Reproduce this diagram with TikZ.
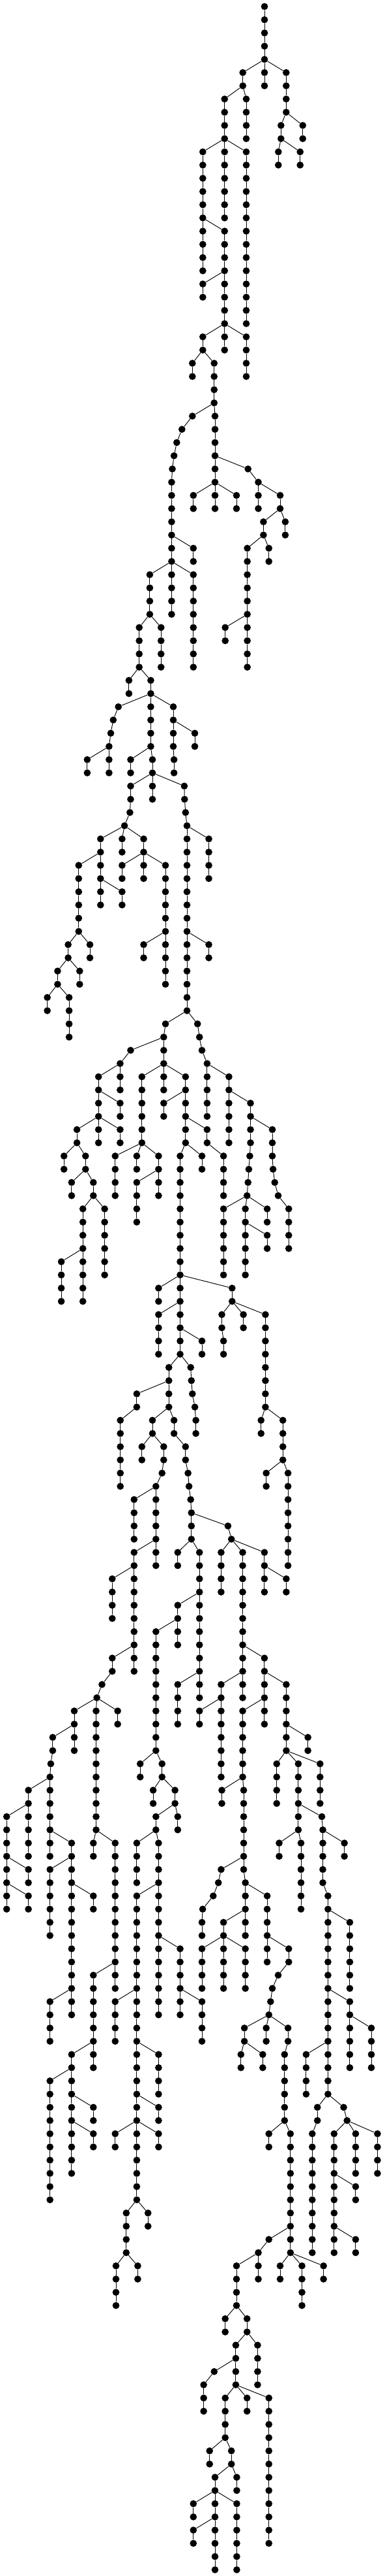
\documentclass[tikz,border=0pt]{standalone}
\tikzset{
  dot/.style={circle,fill=black,draw=none,inner sep=0pt,minimum size=10.7pt},
  edge/.style={draw=black,line width=0.95pt}
}
% A node is named n<level>x<x in tenths of a pixel>.
\newcommand\stp[1]{%
  \pgfmathtruncatemacro\nlv{\plv+1}%
  \node[dot] (n\nlv x#1) at (#1,{10+\nlv*20.27}) {};%
  \draw[edge] (n\plv x\ppx) -- (n\nlv x#1);%
  \xdef\plv{\nlv}\xdef\ppx{#1}}
% \chain{parent level}{parent x}{x of each following node}
\newcommand\chain[3]{\xdef\plv{#1}\xdef\ppx{#2}\foreach\xx in {#3}{\expandafter\stp\expandafter{\xx}}}
% \vc{parent level}{parent x}{x}{last level}: vertical run
\newcommand\vc[4]{\xdef\plv{#1}\xdef\ppx{#2}\pgfmathtruncatemacro\cnt{#4-#1}\foreach\j in {1,...,\cnt}{\stp{#3}}}
\begin{document}
\begin{tikzpicture}[x=0.1pt,y=-1pt]
\useasboundingbox (0,0) rectangle (5900,3952);
\node[dot] (n0x4060) at (4060,10) {};
\vc{0}{4060}{4060}{4}
\vc{4}{4060}{3727}{6}
\vc{4}{4060}{4060}{6}
\vc{4}{4060}{4393}{8}
\vc{8}{4393}{4313}{10}
\vc{10}{4313}{4273}{12}
\vc{10}{4313}{4607}{12}
\vc{8}{4393}{4647}{10}
\vc{6}{3727}{3447}{10}
\vc{6}{3727}{3780}{10}
\vc{10}{3447}{3113}{20}
\vc{10}{3447}{3447}{16}
\vc{10}{3447}{3780}{24}
\vc{16}{3113}{3447}{24}
\vc{20}{3447}{3113}{22}
\vc{24}{3447}{3113}{26}
\vc{24}{3447}{3447}{26}
\vc{24}{3447}{3780}{28}
\vc{26}{3113}{2953}{28}
\vc{26}{3113}{3287}{30}
\chain{30}{3287}{2953,2793,2713,2671,2645,2634}
\chain{30}{3287}{3300}
\vc{31}{3300}{3300}{36}
\vc{36}{3300}{2968}{38}
\vc{36}{3300}{3300}{38}
\vc{36}{3300}{3630}{38}
\chain{34}{3300}{3807,3965}
\vc{36}{3965}{3965}{38}
\vc{36}{3965}{4300}{38}
\vc{38}{4300}{4044}{40}
\vc{38}{4300}{4379}{40}
\vc{40}{4044}{3796}{50}
\vc{40}{4044}{4127}{42}
\vc{46}{3796}{3457}{48}
\vc{36}{2634}{2634}{42}
\vc{40}{2634}{2968}{42}
\vc{42}{2634}{2299}{46}
\vc{42}{2634}{2634}{46}
\vc{42}{2634}{2968}{50}
\vc{46}{2299}{2137}{50}
\vc{46}{2299}{2472}{50}
\vc{50}{2137}{1979}{52}
\vc{50}{2137}{2314}{52}
\chain{52}{2314}{1817,1738,1700,1674}
\vc{56}{1674}{1339}{58}
\vc{56}{1674}{1674}{58}
\vc{52}{2314}{2314}{56}
\vc{56}{2314}{2005}{58}
\vc{56}{2314}{2340}{58}
\vc{52}{2314}{2660}{54}
\vc{54}{2660}{2990}{56}
\chain{54}{2660}{2660,2660,2671,2671}
\chain{58}{2340}{2005,2005,1994,1911}
\vc{58}{2340}{2340}{60}
\chain{58}{2340}{2829,2833,2848,2870}
\vc{62}{2870}{2870}{76}
\vc{62}{2870}{3205}{66}
\vc{62}{1911}{1543}{64}
\vc{62}{1911}{1874}{64}
\vc{62}{1911}{2205}{64}
\vc{64}{1543}{1208}{70}
\vc{64}{1543}{1543}{68}
\vc{66}{1543}{1874}{68}
\vc{64}{2205}{1874}{66}
\vc{64}{2205}{2205}{66}
\vc{64}{2205}{2540}{74}
\vc{70}{1208}{1046}{72}
\vc{70}{1208}{1380}{72}
\vc{72}{1046}{884}{74}
\vc{72}{1046}{1223}{74}
\vc{74}{884}{726}{76}
\vc{74}{884}{1061}{78}
\vc{70}{2540}{2205}{72}
\vc{70}{2870}{3205}{72}
\chain{76}{2870}{2540,2513}
\chain{76}{2870}{3032,3062,3100,3179}
\chain{78}{2513}{2005,1844}
\vc{78}{2513}{2513}{80}
\vc{80}{1844}{1512}{86}
\vc{80}{1844}{1844}{82}
\vc{82}{1512}{1844}{84}
\vc{84}{1512}{1181}{86}
\vc{84}{1512}{1844}{86}
\vc{80}{2513}{2178}{86}
\vc{80}{2513}{2513}{82}
\vc{80}{2513}{2848}{86}
\vc{82}{2848}{2513}{84}
\vc{84}{2848}{3179}{86}
\vc{80}{3179}{3179}{84}
\vc{80}{3179}{3514}{82}
\vc{82}{3514}{3514}{86}
\vc{82}{3514}{3845}{86}
\vc{84}{3845}{4180}{86}
\vc{86}{1181}{982}{88}
\vc{86}{1181}{1313}{88}
\vc{88}{1313}{1099}{90}
\vc{88}{1313}{1433}{90}
\vc{90}{1433}{1272}{98}
\vc{90}{1433}{1606}{96}
\vc{94}{1272}{941}{98}
\vc{86}{2178}{1768}{90}
\vc{86}{2178}{2099}{88}
\vc{86}{2178}{2434}{90}
\vc{88}{2434}{2099}{92}
\vc{86}{2848}{2765}{102}
\vc{86}{2848}{3100}{88}
\vc{96}{2765}{2434}{98}
\vc{96}{2765}{3563}{98}
\vc{98}{2765}{2434}{102}
\vc{100}{2765}{3100}{102}
\vc{102}{2765}{2592}{106}
\vc{104}{2592}{2099}{106}
\chain{102}{2765}{2927,2938,2953,2991,3006,3006}
\chain{98}{3563}{3405,3405,3431,3431}
\vc{98}{3563}{3736}{100}
\vc{98}{3563}{4074}{106}
\vc{86}{3179}{3431}{90}
\chain{86}{3845}{3834,3819,3807,3792}
\vc{90}{3792}{3431}{96}
\vc{90}{3792}{3766}{96}
\vc{90}{3792}{4101}{92}
\vc{92}{3766}{4101}{94}
\chain{86}{4180}{4180,4191,4217,4270,4432}
\vc{91}{4432}{4432}{94}
\vc{106}{2099}{1847}{112}
\vc{106}{2592}{2340}{108}
\vc{108}{2340}{2178}{110}
\chain{108}{2340}{2513,2513,2487,2393}
\chain{106}{2592}{2671,2671,2848,2848,2886,2901,2927,2938}
\vc{112}{2393}{2058}{116}
\vc{112}{2393}{2393}{118}
\vc{116}{2393}{2058}{118}
\vc{118}{2058}{1723}{122}
\vc{118}{2058}{2058}{126}
\chain{114}{2938}{3499,3552}
\vc{114}{2938}{2938}{116}
\vc{116}{2938}{2728}{118}
\vc{116}{2938}{3062}{128}
\vc{120}{3062}{2728}{124}
\vc{122}{2728}{2393}{132}
\vc{126}{3062}{2728}{130}
\vc{116}{3552}{3394}{120}
\vc{116}{3552}{3725}{128}
\vc{116}{3552}{4059}{120}
\vc{118}{4059}{4394}{120}
\vc{124}{3725}{4059}{130}
\vc{126}{3725}{3394}{134}
\vc{128}{3394}{3062}{130}
\vc{126}{4059}{4394}{132}
\vc{128}{4059}{3725}{134}
\vc{130}{4394}{4726}{132}
\vc{132}{4394}{4247}{136}
\vc{132}{4394}{4579}{138}
\vc{132}{4394}{4913}{136}
\chain{136}{4579}{4940,4955}
\vc{138}{4955}{4955}{142}
\vc{138}{4955}{5286}{140}
\vc{138}{4579}{4285}{140}
\vc{138}{4579}{4620}{144}
\vc{134}{3725}{3405}{136}
\vc{106}{4074}{4007}{108}
\vc{106}{4074}{4342}{110}
\vc{110}{4342}{4086}{112}
\vc{110}{4342}{4421}{118}
\vc{124}{2058}{1723}{126}
\chain{126}{1723}{1565,1486}
\vc{128}{1486}{1140}{132}
\vc{128}{1486}{1475}{138}
\vc{128}{1486}{1806}{130}
\chain{130}{1140}{809,809,779,767}
\vc{134}{767}{436}{136}
\vc{134}{767}{767}{140}
\vc{136}{436}{436}{140}
\vc{136}{436}{102}{144}
\vc{140}{102}{436}{142}
\vc{142}{102}{436}{144}
\vc{138}{767}{1099}{150}
\vc{140}{1099}{767}{146}
\vc{142}{1099}{1433}{144}
\vc{150}{1099}{767}{154}
\vc{150}{1099}{1099}{152}
\vc{138}{1475}{1433}{140}
\vc{138}{1475}{1768}{150}
\vc{148}{1768}{1433}{156}
\vc{154}{1433}{1099}{164}
\vc{156}{1099}{767}{166}
\vc{158}{1099}{1433}{160}
\vc{160}{1099}{1433}{162}
\vc{132}{2393}{2152}{134}
\vc{132}{2393}{2487}{134}
\vc{134}{2487}{2351}{136}
\vc{134}{2487}{2686}{136}
\vc{136}{2686}{2393}{138}
\vc{136}{2686}{2728}{138}
\vc{138}{2393}{2099}{142}
\vc{138}{2393}{2434}{152}
\vc{142}{2434}{2099}{166}
\vc{146}{2434}{2765}{152}
\vc{150}{2765}{3100}{154}
\vc{150}{2099}{1768}{154}
\vc{154}{2099}{2434}{158}
\vc{158}{2099}{2434}{160}
\vc{160}{2099}{1768}{162}
\vc{160}{2099}{2434}{162}
\vc{166}{2099}{1938}{170}
\vc{166}{2099}{2272}{168}
\vc{170}{1938}{1780}{174}
\vc{170}{1938}{2114}{172}
\chain{134}{3725}{3740,3740,3740,3740,3740,3740}
\chain{140}{3740}{3394,3352,3273,3111,3100,3100}
\chain{140}{3740}{3740,3766}
\vc{142}{3766}{3766}{146}
\vc{144}{3766}{3431}{146}
\vc{146}{3431}{3100}{150}
\vc{146}{3431}{3431}{150}
\vc{146}{3431}{3766}{150}
\vc{142}{3766}{4101}{148}
\chain{146}{4101}{4432,4432,4270,4180,4153,4127}
\vc{152}{4127}{3751}{154}
\vc{152}{4127}{4086}{154}
\chain{152}{4127}{4421,4421}
\vc{154}{3751}{3698}{156}
\vc{154}{3751}{4033}{156}
\vc{154}{4421}{4368}{160}
\vc{160}{4368}{4127}{162}
\vc{160}{4368}{4458}{170}
\chain{168}{4458}{4127,3965}
\vc{170}{3965}{3630}{174}
\vc{170}{3965}{3965}{172}
\vc{174}{3630}{3457}{176}
\vc{174}{3630}{3792}{176}
\vc{170}{4458}{4300}{172}
\vc{170}{4458}{4635}{174}
\vc{170}{4458}{4966}{172}
\vc{176}{3792}{3619}{180}
\vc{176}{3792}{3954}{180}
\chain{178}{3619}{3288,3126,3126,3126}
\vc{180}{3619}{3457}{184}
\vc{180}{3619}{3792}{182}
\vc{180}{3619}{4127}{192}
\vc{184}{3457}{3217}{186}
\vc{184}{3457}{3552}{186}
\vc{186}{3552}{3300}{188}
\vc{186}{3552}{3634}{188}
\vc{188}{3300}{2968}{190}
\vc{188}{3300}{3300}{194}
\vc{188}{3300}{3634}{194}
\vc{190}{3300}{2968}{192}
\vc{142}{4955}{5034}{158}
\vc{144}{5034}{5369}{150}
\vc{150}{5034}{5369}{152}
\vc{152}{5369}{5369}{156}
\vc{152}{5369}{5700}{156}
\vc{154}{5034}{4699}{158}
\chain{158}{5034}{4872,4872,4793}
\vc{161}{4793}{4793}{170}
\chain{158}{5034}{5275,5327}
\vc{160}{5327}{5128}{170}
\vc{160}{5327}{5459}{164}
\vc{160}{5327}{5794}{164}
\vc{164}{5128}{5459}{166}
\vc{168}{5128}{5459}{170}
\end{tikzpicture}
\end{document}
